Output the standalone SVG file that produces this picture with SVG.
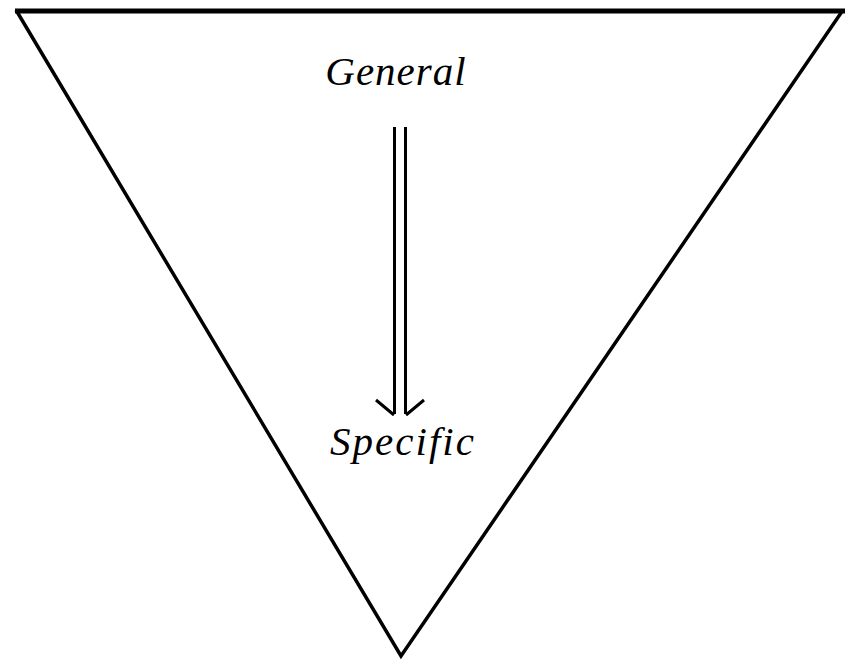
<svg xmlns="http://www.w3.org/2000/svg" width="852" height="660" viewBox="0 0 852 660">
<style>
.t{font-family:'Liberation Serif',serif;font-style:italic;font-size:41px;fill:#000}
.ln{stroke:#000;fill:none}
</style>
<rect width="852" height="660" fill="#fff"/>
<g id="triangle">
<path class="ln" d="M16 10 L401 656 L843 10" stroke-width="3.5" stroke-linejoin="miter"/>
<line class="ln" x1="15" y1="11" x2="845" y2="11" stroke-width="5"/>
</g>
<g id="general"><text class="t" x="396" y="85" text-anchor="middle" letter-spacing="1">General</text></g>
<g id="specific"><text class="t" x="403" y="455" text-anchor="middle" letter-spacing="2">Specific</text></g>
<g id="connectors">
<line class="ln" x1="394.5" y1="127" x2="394.5" y2="414" stroke-width="3"/>
<line class="ln" x1="405.5" y1="127" x2="405.5" y2="414" stroke-width="3"/>
<path class="ln" d="M376 400 L394 415 M424 400 L406 415" stroke-width="3"/>
</g>
</svg>
